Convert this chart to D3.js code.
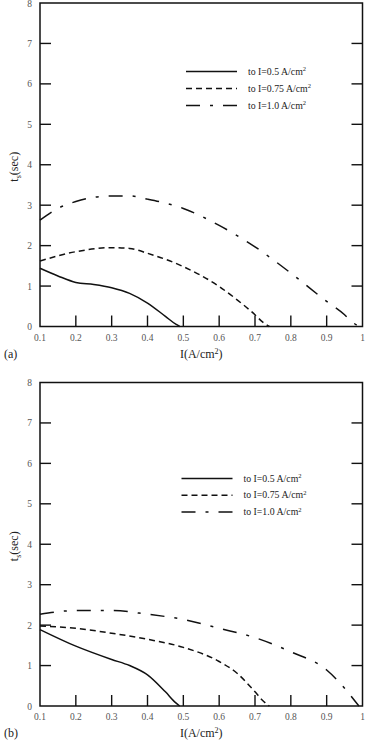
<!DOCTYPE html>
<html>
<head>
<meta charset="utf-8">
<script src="https://cdn.jsdelivr.net/npm/d3@7"></script>
<style>
  body { margin: 0; background: #fff; }
  svg { display: block; font-family: "Liberation Serif", "DejaVu Serif", serif; }
</style>
</head>
<body>
<svg id="chart" width="368" height="741"></svg>
<script>
// x values (current density, A/cm2) and t_s values
var xsA05 = [0.1, 0.15, 0.2, 0.25, 0.3, 0.35, 0.4, 0.45, 0.48, 0.49]
var tsA05 = [1.44, 1.25, 1.09, 1.04, 0.96, 0.82, 0.58, 0.25, 0.05, 0]

var xsA075 = [0.1, 0.2, 0.3, 0.35, 0.4, 0.5, 0.6, 0.65, 0.7, 0.72, 0.74]
var tsA075 = [1.62, 1.85, 1.95, 1.93, 1.81, 1.48, 0.99, 0.66, 0.29, 0.12, 0]

var xsA10 = [0.1, 0.15, 0.2, 0.3, 0.35, 0.4, 0.5, 0.6, 0.7, 0.8, 0.9, 0.95, 0.97, 0.99]
var tsA10 = [2.63, 2.92, 3.09, 3.23, 3.23, 3.15, 2.92, 2.5, 1.97, 1.32, 0.62, 0.29, 0.12, 0]

var xsB05 = [0.1, 0.2, 0.3, 0.35, 0.4, 0.45, 0.48, 0.49]
var tsB05 = [1.89, 1.48, 1.15, 1.0, 0.77, 0.35, 0.07, 0]

var xsB075 = [0.1, 0.2, 0.3, 0.4, 0.5, 0.6, 0.65, 0.7, 0.72, 0.74]
var tsB075 = [1.98, 1.92, 1.8, 1.65, 1.45, 1.1, 0.81, 0.35, 0.15, 0]

var xsB10 = [0.1, 0.2, 0.3, 0.4, 0.5, 0.6, 0.7, 0.8, 0.9, 0.95, 0.98, 0.99]
var tsB10 = [2.27, 2.36, 2.36, 2.27, 2.14, 1.92, 1.69, 1.34, 0.89, 0.44, 0.11, 0]

var xTicks = [0.1, 0.2, 0.3, 0.4, 0.5, 0.6, 0.7, 0.8, 0.9, 1]
var yTicks = [0, 1, 2, 3, 4, 5, 6, 7, 8]
var seriesNames = ['to I=0.5 A/cm', 'to I=0.75 A/cm', 'to I=1.0 A/cm']
var dashes = [null, '6,4', '14,10,3,10']

var panels = [
  {label: '(a)', top: 3, series: [[xsA05, tsA05], [xsA075, tsA075], [xsA10, tsA10]], legend: [186, 71.5], legendGap: 17},
  {label: '(b)', top: 382.5, series: [[xsB05, tsB05], [xsB075, tsB075], [xsB10, tsB10]], legend: [181.5, 478.5], legendGap: 16.7},
]

var svg = d3.select('#chart')
var left = 40, right = 362.5, ph = 323.5

panels.forEach(drawPanel)

function drawPanel(p){
  var g = svg.append('g').attr('transform', 'translate(0,' + p.top + ')')

  var x = d3.scaleLinear().domain([0.1, 1]).range([left, right])
  var y = d3.scaleLinear().domain([0, 8]).range([ph, 0])

  // inward ticks: bottom, left, right
  g.selectAll('line.xt').data(xTicks.slice(1, -1)).join('line')
    .attr('x1', d => x(d)).attr('x2', d => x(d))
    .attr('y1', ph).attr('y2', ph - 11)
    .attr('stroke', '#111').attr('stroke-width', 1.4)

  g.selectAll('line.yl').data(yTicks.slice(1, -1)).join('line')
    .attr('x1', left).attr('x2', left + 11)
    .attr('y1', d => y(d)).attr('y2', d => y(d))
    .attr('stroke', '#111').attr('stroke-width', 1.4)

  g.selectAll('line.yr').data(yTicks.slice(1, -1)).join('line')
    .attr('x1', right).attr('x2', right - 11)
    .attr('y1', d => y(d)).attr('y2', d => y(d))
    .attr('stroke', '#111').attr('stroke-width', 1.4)

  g.append('rect')
    .attr('x', left).attr('y', 0)
    .attr('width', right - left).attr('height', ph)
    .attr('fill', 'none').attr('stroke', '#111').attr('stroke-width', 1.5)

  g.selectAll('text.xl').data(xTicks).join('text')
    .attr('x', d => x(d)).attr('y', ph + 14)
    .attr('text-anchor', 'middle').attr('font-size', 9.5).attr('fill', '#555')
    .text(d => d)

  g.selectAll('text.yl').data(yTicks).join('text')
    .attr('x', 32).attr('y', d => y(d) + 3.5)
    .attr('text-anchor', 'end').attr('font-size', 9.5).attr('fill', '#555')
    .text(d => d)

  var xt = g.append('text')
    .attr('x', x(0.55)).attr('y', ph + 31)
    .attr('text-anchor', 'middle').attr('font-size', 12).attr('fill', '#222')
  xt.append('tspan').text('I(A/cm')
  xt.append('tspan').attr('font-size', 8).attr('dy', -4).text('2')
  xt.append('tspan').attr('dy', 4).text(')')

  g.append('text')
    .attr('x', 4).attr('y', ph + 31)
    .attr('font-size', 12).attr('fill', '#222')
    .text(p.label)

  var yt = g.append('text')
    .attr('transform', 'translate(18,' + (y(4) + 2) + ') rotate(-90)')
    .attr('text-anchor', 'middle').attr('font-size', 12).attr('fill', '#222')
  yt.append('tspan').text('t')
  yt.append('tspan').attr('font-size', 8).attr('dy', 3).text('s')
  yt.append('tspan').attr('dy', -3).text('(sec)')

  var line = d3.line()
    .x(d => x(d[0])).y(d => y(d[1]))
    .curve(d3.curveMonotoneX)

  p.series.forEach((s, i) => {
    var pts = d3.zip(s[0], s[1])
    g.append('path')
      .attr('d', line(pts))
      .attr('fill', 'none').attr('stroke', '#111').attr('stroke-width', 1.5)
      .attr('stroke-dasharray', dashes[i])
  })

  // legend
  var lx = p.legend[0], ly = p.legend[1] - p.top
  seriesNames.forEach((name, i) => {
    var yy = ly + i*p.legendGap
    g.append('line')
      .attr('x1', lx).attr('x2', lx + 51)
      .attr('y1', yy).attr('y2', yy)
      .attr('stroke', '#111').attr('stroke-width', 1.5)
      .attr('stroke-dasharray', dashes[i])
    var t = g.append('text')
      .attr('x', lx + 62).attr('y', yy + 3.2)
      .attr('font-size', 9.8).attr('fill', '#222')
    t.append('tspan').text(name)
    t.append('tspan').attr('font-size', 6.5).attr('dy', -3.5).text('2')
  })
}
</script>
</body>
</html>
